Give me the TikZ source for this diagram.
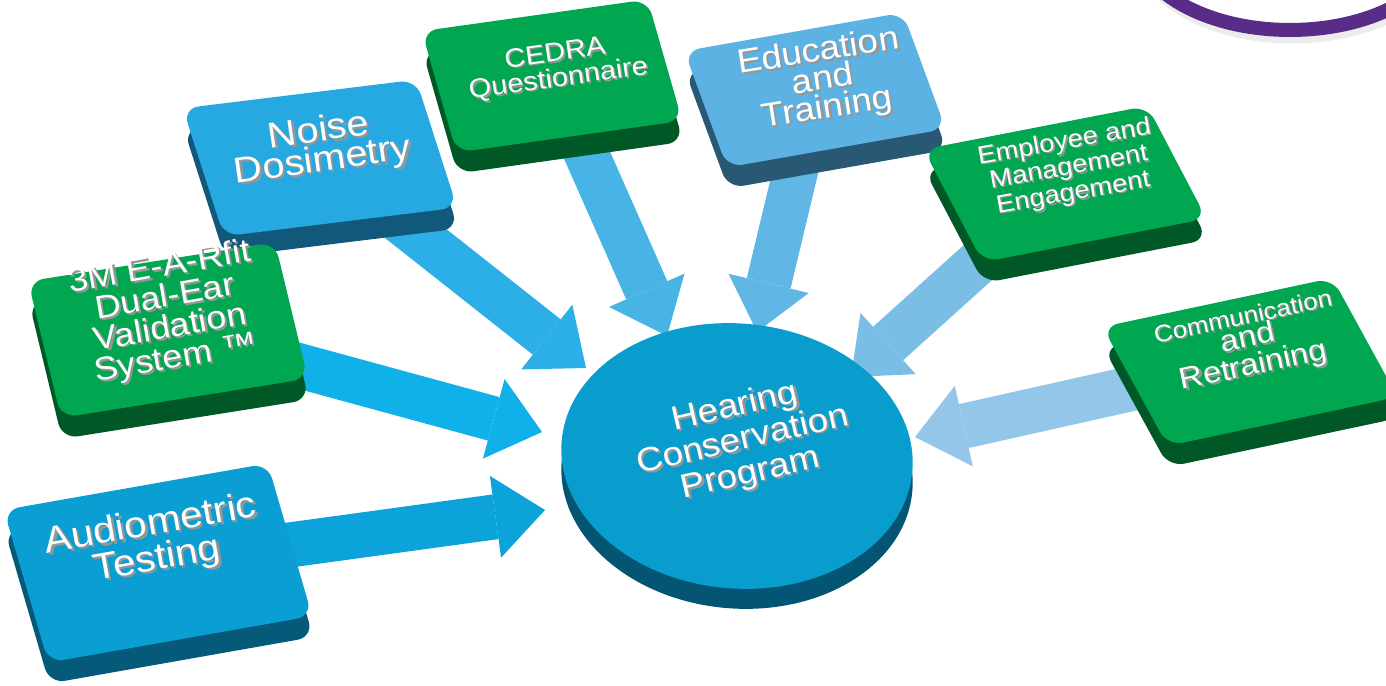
\documentclass[tikz,border=0pt]{standalone}
\usepackage{fontspec}
\setmainfont{Liberation Sans}
\usetikzlibrary{arrows.meta,shapes.geometric,shadows}

\pgfdeclarelayer{bg}
\pgfsetlayers{bg,main}

\definecolor{audiotop}{RGB}{10,158,210}
\definecolor{audioside}{RGB}{4,90,120}
\definecolor{noisetop}{RGB}{38,168,224}
\definecolor{noiseside}{RGB}{18,88,122}
\definecolor{edutop}{RGB}{92,178,226}
\definecolor{eduside}{RGB}{40,88,115}
\definecolor{greentop}{RGB}{0,166,80}
\definecolor{greenside}{RGB}{0,88,38}
\definecolor{hcptop}{RGB}{9,157,206}
\definecolor{hcpside}{RGB}{4,85,115}
\definecolor{arrA}{RGB}{11,163,217}
\definecolor{arrB}{RGB}{16,176,232}
\definecolor{arrC}{RGB}{44,175,230}
\definecolor{arrD}{RGB}{72,179,229}
\definecolor{arrE}{RGB}{96,183,229}
\definecolor{arrF}{RGB}{122,190,230}
\definecolor{arrG}{RGB}{147,198,232}
\definecolor{ringpurple}{RGB}{88,44,135}
\definecolor{embshade}{RGB}{150,150,150}

\newcommand{\emb}[1]{\leavevmode\rlap{\textcolor{embshade}{\kern.05em\raisebox{-.07em}{#1}}}#1}

\tikzset{
  key/.style 2 args={fill=#1, rounded corners=9pt, inner sep=0pt,
    drop shadow={shadow xshift=0.02cm, shadow yshift=-0.42cm, fill=#2, opacity=1}},
  lbl/.style={text=white, align=center, inner sep=0pt, font=#1},
  flow/.style={draw=#1, line width=0.9cm, -{Triangle[length=1cm, width=1.65cm, line width'=0pt]}},
  ring/.style={draw=ringpurple, line width=0.28cm}
}

\begin{document}
\begin{tikzpicture}[x=0.02cm, y=-0.02cm]
\useasboundingbox (0,0) rectangle (1386,686);

% ring in the corner
\begin{scope}
  \clip (0,0) rectangle (1386,686);
  \draw[gray!15, line width=0.2cm] (1292,-54) ellipse [x radius=3.1cm, y radius=1.85cm];
  \draw[ring] (1290,-60) ellipse [x radius=3.1cm, y radius=1.8cm];
\end{scope}

% keys
\node[key={noisetop}{noiseside}, minimum width=4.7cm, minimum height=2.64cm, rotate=7, xslant=-.19] (noise) at (320,158) {};
\node[key={greentop}{greenside}, minimum width=4.56cm, minimum height=2.5cm, rotate=8, xslant=-.14] (cedra) at (552,76) {};
\node[key={edutop}{eduside}, minimum width=4.44cm, minimum height=2.44cm, rotate=10, xslant=-.18] (edu) at (815,90) {};
\node[key={greentop}{greenside}, minimum width=4.56cm, minimum height=2.44cm, rotate=11, xslant=-.3] (engage) at (1065,184) {};
\node[key={greentop}{greenside}, minimum width=4.7cm, minimum height=2.6cm, rotate=12, xslant=-.3] (comm) at (1250,362) {};
\node[key={greentop}{greenside}, minimum width=5cm, minimum height=2.8cm, rotate=9, xslant=-.08] (earfit) at (168,330) {};
\node[key={audiotop}{audioside}, minimum width=5.36cm, minimum height=3.16cm, rotate=10, xslant=-.11] (audio) at (158,563) {};
\node[ellipse, fill=hcptop, inner sep=0pt, minimum width=7.04cm, minimum height=5.3cm, rotate=-5,
  drop shadow={shadow xshift=0cm, shadow yshift=-0.4cm, fill=hcpside, opacity=1}] (hcp) at (737,456) {};

% labels
\node[lbl={\fontsize{21}{20}\selectfont}, rotate=10, xscale=1.1] (audio-txt) at (154,544) {\emb{Audiometric}\\\emb{Testing}};
\node[lbl={\fontsize{18.5}{17.5}\selectfont}, rotate=10, xscale=1.1] (earfit-txt) at (168,315) {\emb{3M E-A-Rfit}\\\emb{Dual-Ear}\\\emb{Validation}\\\emb{System ™}};
\node[lbl={\fontsize{20.5}{17}\selectfont}, rotate=8, xscale=1.1] (noise-txt) at (321,148) {\emb{Noise}\\\emb{Dosimetry}};
\node[lbl={\fontsize{15}{14.5}\selectfont}, rotate=8, xscale=1.1] (cedra-txt) at (557,68) {\emb{CEDRA}\\\emb{Questionnaire}};
\node[lbl={\fontsize{19}{14.5}\selectfont}, rotate=9, xscale=1.1] (edu-txt) at (823,82) {\emb{Education}\\\emb{and}\\\emb{Training}};
\node[lbl={\fontsize{14.2}{12.5}\selectfont}, rotate=10, xscale=1.1] (engage-txt) at (1069,169) {\emb{Employee and}\\\emb{Management}\\\emb{Engagement}};
\node[lbl={\fontsize{17}{16}\selectfont}, rotate=12, xscale=1.1] (comm-txt) at (1249,345) {{\fontsize{13.5}{13}\selectfont\emb{Communication}}\\[-3pt]\emb{and}\\\emb{Retraining}};
\node[lbl={\fontsize{19}{19.5}\selectfont}, rotate=13, xscale=1.1] (hcp-txt) at (743,442) {\emb{Hearing}\\\emb{Conservation}\\\emb{Program}};

% arrow tips
\coordinate (ta) at (545,510);
\coordinate (tb) at (542,432);
\coordinate (tc) at (586,368);
\coordinate (td) at (667,336);
\coordinate (te) at (757,332);
\coordinate (tf) at (851,377);
\coordinate (tg) at (915,437);

\begin{pgfonlayer}{bg}
  \draw[flow=arrA] (audio.center) -- (ta);
  \draw[flow=arrB] (earfit.center) -- (tb);
  \draw[flow=arrC] (noise.center) -- (tc);
  \draw[flow=arrD] (cedra.center) -- (td);
  \draw[flow=arrE] (edu.center) -- (te);
  \draw[flow=arrF] (engage.center) -- (tf);
  \draw[flow=arrG] (comm.center) -- (tg);
\end{pgfonlayer}
\end{tikzpicture}
\end{document}
